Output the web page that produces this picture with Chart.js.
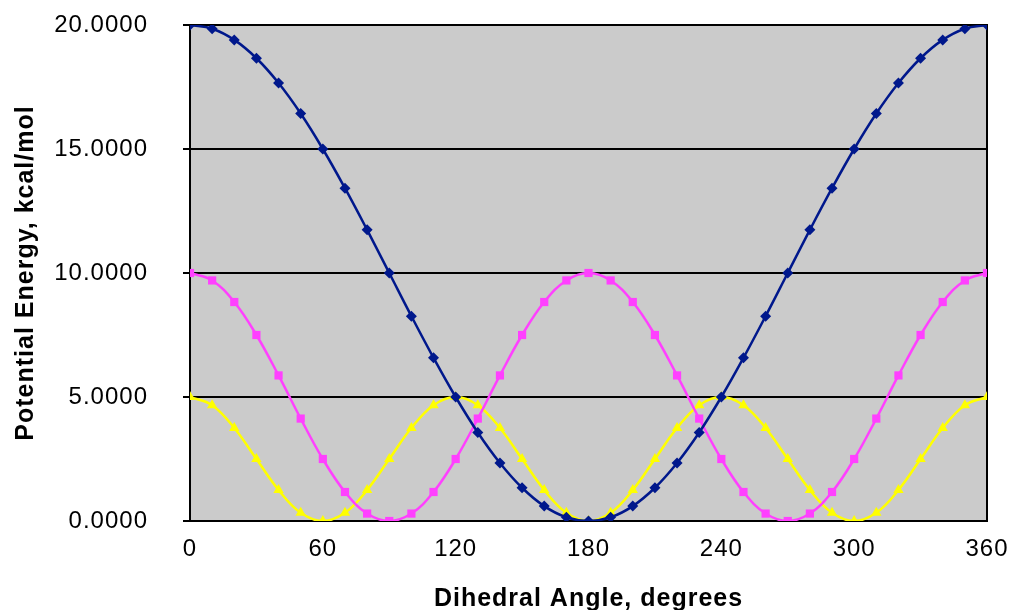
<!DOCTYPE html>
<html>
<head>
<meta charset="utf-8">
<script src="https://cdn.jsdelivr.net/npm/chart.js@4/dist/chart.umd.min.js"></script>
<style>
  html, body { margin: 0; padding: 0; background: #fff; }
  #wrap { width: 1013px; height: 610px; }
</style>
</head>
<body>
<div id="wrap"><canvas id="chart" width="1013" height="610"></canvas></div>
<script>
// dihedral angle, degrees
const angles = [0, 10, 20, 30, 40, 50, 60, 70, 80, 90, 100, 110, 120, 130, 140, 150, 160, 170, 180,
  190, 200, 210, 220, 230, 240, 250, 260, 270, 280, 290, 300, 310, 320, 330, 340, 350, 360];

// potential energy, kcal/mol
const blueVals = [20.0, 19.85, 19.4, 18.66, 17.66, 16.43, 15.0, 13.42, 11.74, 10.0, 8.26, 6.58, 5.0,
  3.57, 2.34, 1.34, 0.6, 0.15, 0.0, 0.15, 0.6, 1.34, 2.34, 3.57, 5.0, 6.58, 8.26, 10.0, 11.74,
  13.42, 15.0, 16.43, 17.66, 18.66, 19.4, 19.85, 20.0];
const pinkVals = [10.0, 9.7, 8.83, 7.5, 5.87, 4.13, 2.5, 1.17, 0.3, 0.0, 0.3, 1.17, 2.5, 4.13, 5.87,
  7.5, 8.83, 9.7, 10.0, 9.7, 8.83, 7.5, 5.87, 4.13, 2.5, 1.17, 0.3, 0.0, 0.3, 1.17, 2.5, 4.13,
  5.87, 7.5, 8.83, 9.7, 10.0];
const yellowVals = [5.0, 4.67, 3.75, 2.5, 1.25, 0.33, 0.0, 0.33, 1.25, 2.5, 3.75, 4.67, 5.0, 4.67,
  3.75, 2.5, 1.25, 0.33, 0.0, 0.33, 1.25, 2.5, 3.75, 4.67, 5.0, 4.67, 3.75, 2.5, 1.25, 0.33, 0.0,
  0.33, 1.25, 2.5, 3.75, 4.67, 5.0];

const xTicks = [0, 60, 120, 180, 240, 300, 360];
const yTicks = [0, 5, 10, 15, 20];

const FONT = "'Liberation Sans', Arial, Helvetica, sans-serif";

function toPoints(vals) {
  return vals.map((v, i) => ({ x: angles[i], y: v }));
}

function series(vals, color, style, radius) {
  return {
    data: toPoints(vals),
    borderColor: color,
    backgroundColor: color,
    borderWidth: 2.5,
    pointStyle: style,
    pointRadius: radius,
    pointBorderWidth: 0,
    tension: 0.4,
  };
}

// no extra room for half labels, the layout padding decides the plot box
function noPad(s) {
  s.paddingTop = 0;
  s.paddingBottom = 0;
  s.paddingLeft = 0;
  s.paddingRight = 0;
}

const plotFrame = {
  id: "plotFrame",
  beforeDraw(chart) {
    const { ctx, chartArea: a } = chart;
    ctx.letterSpacing = "1px"; // the reference text is set a little loose
    ctx.save();
    ctx.fillStyle = "#cbcbcb";
    ctx.fillRect(a.left, a.top, a.right - a.left, a.bottom - a.top);
    ctx.restore();
  },
  beforeDatasetsDraw(chart) {
    const { ctx, chartArea: a } = chart;
    ctx.save();
    ctx.strokeStyle = "#000";
    ctx.lineWidth = 2;
    ctx.strokeRect(a.left, a.top, a.right - a.left, a.bottom - a.top);
    ctx.restore();
  },
};

new Chart(document.getElementById("chart"), {
  type: "line",
  data: {
    datasets: [
      series(blueVals, "#00188c", "rectRot", 5.5),
      series(pinkVals, "#ff40ff", "rect", 5.8),
      series(yellowVals, "#ffff00", "triangle", 6),
    ],
  },
  options: {
    responsive: false,
    animation: false,
    layout: { padding: { left: 0, right: 26, top: 25, bottom: 0 } },
    plugins: { legend: { display: false }, tooltip: { enabled: false } },
    scales: {
      x: {
        type: "linear",
        min: 0,
        max: 360,
        afterBuildTicks: (s) => { s.ticks = xTicks.map((v) => ({ value: v })); },
        afterFit: (s) => { s.height = 89; noPad(s); },
        grid: { display: false, drawTicks: false },
        border: { display: false },
        ticks: { color: "#000", padding: 14, maxRotation: 0, font: { family: FONT, size: 24 } },
        title: {
          display: true,
          text: "Dihedral Angle, degrees",
          color: "#000",
          padding: { top: 0, bottom: -4 },
          font: { family: FONT, size: 25, weight: "bold" },
        },
      },
      y: {
        min: 0,
        max: 20,
        afterBuildTicks: (s) => { s.ticks = yTicks.map((v) => ({ value: v })); },
        afterFit: (s) => { s.width = 190; noPad(s); },
        grid: { color: "#000", lineWidth: 2, tickLength: 7, drawTicks: true },
        border: { display: false },
        ticks: {
          color: "#000",
          padding: 35,
          font: { family: FONT, size: 24 },
          callback: (v) => v.toFixed(4),
        },
        title: {
          display: true,
          text: "Potential Energy, kcal/mol",
          color: "#000",
          padding: { top: 11, bottom: 0 },
          font: { family: FONT, size: 25, weight: "bold" },
        },
      },
    },
  },
  plugins: [plotFrame],
});
</script>
</body>
</html>
